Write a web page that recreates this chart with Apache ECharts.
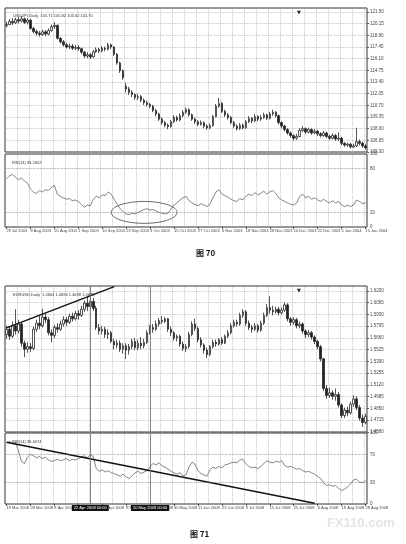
<!DOCTYPE html>
<html><head><meta charset="utf-8">
<script src="https://cdn.jsdelivr.net/npm/echarts@6/dist/echarts.min.js"></script>
<style>html,body{margin:0;padding:0;background:#fff}#c{width:406px;height:544px}</style>
</head><body><div id="c"></div><script>
// ---------- Figure 70 : USDJPY Daily ----------
const jpyTicks = ['29 Jul 2003','8 Aug 2003','20 Aug 2003','1 Sep 2003','10 Sep 2003','23 Sep 2003','3 Oct 2003','15 Oct 2003','27 Oct 2003','6 Nov 2003','18 Nov 2003','28 Nov 2003','10 Dec 2003','22 Dec 2003','5 Jan 2004','15 Jan 2004'];
const jpyOpen = [119.90,120.05,120.40,120.25,120.60,120.45,120.70,120.30,120.55,119.60,
119.25,119.05,118.90,119.20,118.95,119.35,119.80,119.95,118.45,118.05,
117.70,117.45,117.55,117.30,117.40,117.25,116.85,116.40,116.55,116.30,
116.90,117.15,117.00,117.30,117.20,117.70,117.45,116.60,115.60,114.70,
112.90,112.60,112.20,111.95,111.60,111.70,111.30,111.00,110.80,110.60,
110.10,109.70,109.10,108.70,108.40,108.25,108.80,109.30,109.00,109.50,
109.90,110.20,109.60,109.10,108.80,108.50,108.70,108.30,108.10,108.35,
109.40,110.60,110.90,110.00,109.60,109.30,108.70,108.30,108.00,108.40,
108.10,108.80,109.20,108.90,109.40,109.10,109.30,109.60,109.20,109.70,
109.90,109.50,108.70,108.30,107.90,107.50,107.20,106.90,107.10,107.80,
108.00,107.60,107.90,107.50,107.70,107.40,107.20,107.50,107.10,106.90,
107.20,106.80,106.90,106.30,106.10,106.20,105.90,106.00,106.50,106.30,
106.00];
const jpyClose = [120.05,120.40,120.25,120.60,120.45,120.70,120.30,120.55,119.60,119.25,
119.05,118.90,119.20,118.95,119.35,119.80,119.95,118.45,118.05,117.70,
117.45,117.55,117.30,117.40,117.25,116.85,116.40,116.55,116.30,116.90,
117.15,117.00,117.30,117.20,117.70,117.45,116.60,115.60,114.70,113.90,
112.60,112.20,111.95,111.60,111.70,111.30,111.00,110.80,110.60,110.10,
109.70,109.10,108.70,108.40,108.25,108.80,109.30,109.00,109.50,109.90,
110.20,109.60,109.10,108.80,108.50,108.70,108.30,108.10,108.35,109.40,
110.60,110.90,110.00,109.60,109.30,108.70,108.30,108.00,108.40,108.10,
108.80,109.20,108.90,109.40,109.10,109.30,109.60,109.20,109.70,109.90,
109.50,108.70,108.30,107.90,107.50,107.20,106.90,107.10,107.80,108.00,
107.60,107.90,107.50,107.70,107.40,107.20,107.50,107.10,106.90,107.20,
106.80,106.90,106.30,106.10,106.20,105.90,106.00,106.50,106.30,106.00,
105.80];
const jpyLow = [119.70,119.95,120.00,120.10,120.20,120.30,120.10,120.05,119.45,119.00,
118.80,118.65,118.75,118.70,118.80,119.20,119.55,118.30,117.85,117.50,
117.25,117.20,117.10,117.10,117.00,116.60,116.20,116.15,116.05,116.20,
116.75,116.75,116.85,116.95,117.05,117.20,116.40,115.40,114.45,113.65,
112.20,111.90,111.65,111.35,111.30,111.05,110.75,110.55,110.35,109.90,
109.45,108.90,108.45,108.15,107.95,108.10,108.65,108.80,108.85,109.30,
109.70,109.40,108.90,108.55,108.30,108.35,108.05,107.85,107.95,108.25,
109.30,110.40,109.80,109.35,109.05,108.50,108.10,107.80,107.85,107.90,
108.00,108.65,108.65,108.75,108.85,108.90,109.15,109.00,109.05,109.50,
109.30,108.50,108.05,107.70,107.30,106.95,106.65,106.70,107.00,107.60,
107.40,107.45,107.30,107.35,107.15,107.00,107.05,106.90,106.70,106.75,
106.60,106.55,106.10,105.90,105.90,105.70,105.75,105.85,106.05,105.80,
105.60];
const jpyHigh = [120.35,120.65,120.80,120.85,120.90,121.05,120.85,120.80,120.70,119.80,
119.45,119.30,119.45,119.40,119.60,120.05,120.30,120.05,118.60,118.25,
117.95,117.85,117.80,117.70,117.65,117.40,117.00,116.85,116.75,117.10,
117.40,117.35,117.55,117.50,117.95,117.85,117.55,116.75,115.75,114.85,
113.30,112.85,112.45,112.10,112.00,111.90,111.50,111.25,111.00,110.75,
110.30,109.85,109.30,108.90,108.60,109.00,109.55,109.50,109.75,110.15,
110.45,110.35,109.75,109.30,109.00,108.95,108.85,108.50,108.60,109.60,
110.85,111.55,111.10,110.20,109.80,109.45,108.90,108.50,108.65,108.60,
109.00,109.45,109.35,109.70,109.55,109.60,109.85,109.75,109.95,110.20,
110.05,109.65,108.85,108.45,108.05,107.70,107.35,107.40,108.05,108.30,
108.15,108.10,108.05,107.95,107.85,107.60,107.75,107.65,107.30,107.45,
107.40,107.55,107.05,106.45,106.40,106.35,106.25,108.10,106.75,106.50,
106.20];
const jpyRsi = [66,70,72,68,65,67,63,60,52,48,
46,50,48,51,50,54,57,45,42,40,38,39,36,37,35,31,27,30,29,38,42,40,44,43,48,45,
38,31,25,21,18,17,19,18,20,22,24,25,23,24,22,20,19,18,19,25,30,
33,37,40,42,36,33,31,29,32,30,28,31,40,48,51,
45,43,41,38,36,35,39,37,42,45,43,47,44,46,49,45,48,50,46,
40,37,35,33,31,30,33,42,45,
40,42,38,40,37,35,38,35,33,36,33,35,
30,28,30,28,30,37,35,32,33];
const jpyRsiLevels = [80, 20];
const jpyEllipseCenter = [46, 20];   // bar index, RSI value
const jpyEllipseHalf = [11, 15];     // bars, RSI points

// ---------- Figure 71 : EURUSD Daily ----------
const eurTicks = ['19 Mar 2008','28 Mar 2008','8 Apr 2008','18 Apr 2008','29 Apr 2008','8 May 2008','20 May 2008','30 May 2008','11 Jun 2008','23 Jun 2008','3 Jul 2008','15 Jul 2008','25 Jul 2008','6 Aug 2008','18 Aug 2008','28 Aug 2008'];
const eurOpen = [1.5700,1.5760,1.5680,1.5800,1.5740,1.5820,1.5600,1.5530,1.5560,1.5540,
1.5760,1.5830,1.5800,1.5900,1.5870,1.5720,1.5690,1.5780,1.5760,1.5820,
1.5870,1.5840,1.5910,1.5880,1.5940,1.5920,1.5990,1.6060,1.6020,1.6080,
1.6000,1.5780,1.5740,1.5760,1.5700,1.5720,1.5620,1.5580,1.5600,1.5530,
1.5570,1.5520,1.5560,1.5620,1.5550,1.5600,1.5570,1.5610,1.5720,1.5780,
1.5760,1.5820,1.5860,1.5850,1.5880,1.5760,1.5720,1.5660,1.5680,1.5590,
1.5540,1.5560,1.5700,1.5820,1.5770,1.5640,1.5580,1.5520,1.5470,1.5560,
1.5610,1.5590,1.5640,1.5600,1.5680,1.5720,1.5800,1.5840,1.5820,1.5920,
1.5960,1.5830,1.5780,1.5760,1.5800,1.5750,1.5830,1.5920,1.6010,1.5980,
1.5960,1.5990,1.5950,1.5980,1.6040,1.5880,1.5840,1.5870,1.5800,1.5820,
1.5740,1.5700,1.5720,1.5670,1.5620,1.5560,1.5420,1.5080,1.5000,1.5030,
1.4990,1.5010,1.4890,1.4770,1.4830,1.4800,1.4900,1.4960,1.4860,1.4740,
1.4690];
const eurClose = [1.5760,1.5680,1.5800,1.5740,1.5820,1.5600,1.5530,1.5560,1.5540,1.5760,
1.5830,1.5800,1.5900,1.5870,1.5720,1.5690,1.5780,1.5760,1.5820,1.5870,
1.5840,1.5910,1.5880,1.5940,1.5920,1.5990,1.6060,1.6020,1.6080,1.6000,
1.5780,1.5740,1.5760,1.5700,1.5720,1.5620,1.5580,1.5600,1.5530,1.5570,
1.5520,1.5560,1.5620,1.5550,1.5600,1.5570,1.5610,1.5720,1.5780,1.5760,
1.5820,1.5860,1.5850,1.5880,1.5760,1.5720,1.5660,1.5680,1.5590,1.5540,
1.5560,1.5700,1.5820,1.5770,1.5640,1.5580,1.5520,1.5470,1.5560,1.5610,
1.5590,1.5640,1.5600,1.5680,1.5720,1.5800,1.5840,1.5820,1.5920,1.5960,
1.5830,1.5780,1.5760,1.5800,1.5750,1.5830,1.5920,1.6010,1.5980,1.5960,
1.5990,1.5950,1.5980,1.6040,1.5880,1.5840,1.5870,1.5800,1.5820,1.5740,
1.5700,1.5720,1.5670,1.5620,1.5560,1.5420,1.5080,1.5000,1.5030,1.4990,
1.5010,1.4890,1.4770,1.4830,1.4800,1.4900,1.4960,1.4860,1.4740,1.4690,
1.4760];
const eurLow = [1.5650,1.5640,1.5660,1.5700,1.5710,1.5560,1.5440,1.5490,1.5500,1.5520,
1.5730,1.5760,1.5780,1.5830,1.5690,1.5610,1.5660,1.5720,1.5740,1.5790,
1.5800,1.5820,1.5850,1.5860,1.5870,1.5900,1.5960,1.5970,1.5990,1.5970,
1.5750,1.5700,1.5700,1.5660,1.5650,1.5600,1.5530,1.5540,1.5500,1.5480,
1.5420,1.5470,1.5530,1.5520,1.5520,1.5530,1.5540,1.5590,1.5700,1.5720,
1.5740,1.5790,1.5820,1.5830,1.5730,1.5680,1.5630,1.5620,1.5560,1.5510,
1.5500,1.5540,1.5680,1.5740,1.5610,1.5550,1.5480,1.5430,1.5450,1.5540,
1.5560,1.5570,1.5580,1.5590,1.5660,1.5700,1.5780,1.5790,1.5800,1.5890,
1.5800,1.5750,1.5720,1.5740,1.5720,1.5730,1.5810,1.5900,1.5940,1.5920,
1.5940,1.5920,1.5930,1.5960,1.5850,1.5800,1.5810,1.5770,1.5770,1.5710,
1.5660,1.5670,1.5640,1.5590,1.5530,1.5390,1.5050,1.4960,1.4970,1.4950,
1.4940,1.4860,1.4740,1.4740,1.4760,1.4780,1.4870,1.4830,1.4710,1.4640,
1.4670];
const eurHigh = [1.5800,1.5790,1.5850,1.5990,1.5870,1.5840,1.5630,1.5610,1.5600,1.5790,
1.5870,1.5920,1.5995,1.5940,1.5900,1.5760,1.5810,1.5830,1.5860,1.5910,
1.5900,1.5940,1.5950,1.5970,1.5980,1.6030,1.6090,1.6130,1.6110,1.6120,
1.6030,1.5820,1.5800,1.5790,1.5760,1.5740,1.5650,1.5640,1.5630,1.5600,
1.5600,1.5590,1.5650,1.5660,1.5640,1.5670,1.5650,1.5750,1.5810,1.5820,
1.5860,1.5890,1.5910,1.5900,1.5890,1.5790,1.5740,1.5700,1.5700,1.5620,
1.5590,1.5730,1.5850,1.5880,1.5790,1.5670,1.5600,1.5550,1.5580,1.5640,
1.5640,1.5660,1.5670,1.5700,1.5750,1.5830,1.5870,1.5870,1.5950,1.5990,
1.5980,1.5860,1.5810,1.5830,1.5820,1.5860,1.5950,1.6050,1.6140,1.6030,
1.6020,1.6020,1.6010,1.6070,1.6060,1.5900,1.5900,1.5890,1.5850,1.5840,
1.5760,1.5750,1.5740,1.5690,1.5640,1.5580,1.5430,1.5120,1.5090,1.5060,
1.5080,1.5040,1.4910,1.4860,1.4870,1.4930,1.5000,1.4990,1.4890,1.4780,
1.4790];
const eurRsi = [86,88,85,87,75,60,57,66,70,68,65,67,64,66,
62,60,61,63,61,62,64,61,63,62,64,66,68,65,69,67,
50,46,48,45,47,44,43,41,39,42,38,36,40,44,46,43,45,47,
53,57,55,58,54,52,49,46,44,42,44,40,41,52,59,56,47,43,41,39,
48,52,50,53,51,55,56,58,59,58,62,63,57,53,51,52,50,53,
57,61,59,58,60,59,61,54,52,53,51,49,50,47,45,46,44,
42,39,36,30,26,27,25,26,22,19,21,24,28,34,35,31,30,33];
const eurRsiLevels = [70, 30];
const eurPriceTrend = [[0, 1.5775], [36, 1.6250]];   // bar index, price
const eurRsiTrend = [[0, 87], [103, 1]];             // bar index, RSI
const eurVLines = [{bar: 28, label: '22 Apr 2008 00:00'}, {bar: 48, label: '20 May 2008 00:00'}];

// ---------- build ----------
const jpyCats = jpyClose.map((_, i) => String(i));
const eurCats = eurClose.map((_, i) => String(i));
const jpyK = jpyOpen.map((o, i) => [o, jpyClose[i], jpyLow[i], jpyHigh[i]]);
const eurK = eurOpen.map((o, i) => [o, eurClose[i], eurLow[i], eurHigh[i]]);

const FONT = 'Liberation Sans';
const ink = '#2a2a2a';
const gridBase = {left: 5, right: 39, show: true, borderColor: '#333', borderWidth: 1, backgroundColor: '#fff'};
const grids = [
  Object.assign({top: 8, height: 144}, gridBase),
  Object.assign({top: 154, height: 73}, gridBase),
  Object.assign({top: 286, height: 146}, gridBase),
  Object.assign({top: 433, height: 71}, gridBase)
];
function xAx(gi, cats, ticks, showLabels) {
  return {
    type: 'category', gridIndex: gi, data: cats, boundaryGap: true,
    axisLine: {show: false},
    axisTick: {show: showLabels, interval: 7, length: 2, alignWithLabel: true, lineStyle: {color: '#333', width: 0.8}},
    axisLabel: {show: showLabels, interval: 0, fontSize: 4, color: '#444', fontFamily: FONT, align: 'left', margin: 2,
      formatter: (v, i) => (i % 8 === 0 ? ticks[i / 8] : '')},
    splitLine: {show: true, interval: 3, lineStyle: {type: 'dotted', color: '#9a9a9a', width: 0.6}}
  };
}
function yPrice(gi, min, max, interval, dec) {
  return {
    type: 'value', gridIndex: gi, position: 'right', min: min, max: max, interval: interval,
    axisLine: {show: false},
    axisTick: {show: true, length: 2, lineStyle: {color: '#333', width: 0.8}},
    axisLabel: {fontSize: 4.5, color: '#444', fontFamily: FONT, margin: 3, showMaxLabel: false,
      formatter: v => v.toFixed(dec)},
    splitLine: {show: true, lineStyle: {type: 'dotted', color: '#9a9a9a', width: 0.6}}
  };
}
function yRsi(gi, levels) {
  return {
    type: 'value', gridIndex: gi, position: 'right', min: 0, max: 100, interval: 10,
    axisLine: {show: false},
    axisTick: {show: false},
    axisLabel: {fontSize: 4.5, color: '#444', fontFamily: FONT, margin: 3,
      formatter: v => (v === 0 || v === 100 || levels.indexOf(v) >= 0 ? String(v) : '')},
    splitLine: {show: false}
  };
}
const candleStyle = {color: '#fff', color0: '#222', borderColor: ink, borderColor0: ink, borderWidth: 0.8};
function levelLines(levels) {
  return {silent: true, symbol: 'none', label: {show: false},
    lineStyle: {type: 'dotted', color: '#777', width: 0.7},
    data: levels.map(l => ({yAxis: l}))};
}
const smallText = {fontSize: 4, fontWeight: 'normal', color: '#333', fontFamily: FONT};

const option = {
  animation: false,
  backgroundColor: '#fff',
  title: [
    {text: 'USDJPY,Daily  105.71 105.82 105.62 105.70', left: 8, top: 9, textStyle: smallText},
    {text: 'RSI(14) 33.2652', left: 7, top: 156, textStyle: smallText},
    {text: '▼', left: 292, top: 5, textStyle: {fontSize: 5, color: '#222', fontFamily: 'DejaVu Sans'}},
    {text: '图 70', left: 191, top: 244, textStyle: {fontSize: 8, fontWeight: 'bold', color: '#111', fontFamily: 'Noto Sans CJK SC'}},
    {text: 'EURUSD,Daily  1.4664 1.4694 1.4638 1.4648', left: 8, top: 288, textStyle: smallText},
    {text: 'RSI(14) 36.4074', left: 7, top: 435, textStyle: smallText},
    {text: '▼', left: 292, top: 283, textStyle: {fontSize: 5, color: '#222', fontFamily: 'DejaVu Sans'}},
    {text: '图 71', left: 185, top: 525, textStyle: {fontSize: 8, fontWeight: 'bold', color: '#111', fontFamily: 'Noto Sans CJK SC'}},
    {text: 'FX110.com', left: 322, top: 512, textStyle: {fontSize: 13, fontWeight: 'bold', color: '#e4e4e4', fontFamily: 'Liberation Sans'}}
  ],
  grid: grids,
  xAxis: [xAx(0, jpyCats, jpyTicks, false), xAx(1, jpyCats, jpyTicks, true), xAx(2, eurCats, eurTicks, false), xAx(3, eurCats, eurTicks, true)],
  yAxis: [yPrice(0, 105.30, 121.96, 1.35, 2), yRsi(1, jpyRsiLevels), yPrice(2, 1.4580, 1.6257, 0.0135, 4), yRsi(3, eurRsiLevels)],
  series: [
    {type: 'candlestick', xAxisIndex: 0, yAxisIndex: 0, data: jpyK, barWidth: 2, itemStyle: candleStyle},
    {type: 'line', xAxisIndex: 1, yAxisIndex: 1, data: jpyRsi, symbol: 'none', lineStyle: {color: '#666', width: 0.8},
      markLine: levelLines(jpyRsiLevels)},
    {type: 'candlestick', xAxisIndex: 2, yAxisIndex: 2, data: eurK, barWidth: 2, itemStyle: candleStyle,
      markLine: {silent: true, symbol: 'none', label: {show: false}, lineStyle: {type: 'solid', color: '#777', width: 0.9},
        data: eurVLines.map(v => ({xAxis: v.bar}))}},
    {type: 'line', xAxisIndex: 2, yAxisIndex: 2, data: eurPriceTrend, symbol: 'none', clip: false,
      lineStyle: {color: '#111', width: 1.4}},
    {type: 'line', xAxisIndex: 3, yAxisIndex: 3, data: eurRsi, symbol: 'none', lineStyle: {color: '#666', width: 0.8},
      markLine: {silent: true, symbol: 'none',
        data: eurRsiLevels.map(l => ({yAxis: l, lineStyle: {type: 'dotted', color: '#777', width: 0.7}, label: {show: false}}))
          .concat(eurVLines.map(v => ({xAxis: v.bar, lineStyle: {type: 'solid', color: '#777', width: 0.9},
            label: {show: true, position: 'start', distance: 1, formatter: v.label, fontSize: 4, color: '#fff',
              backgroundColor: '#111', padding: [1, 2], fontFamily: FONT}})))}},
    {type: 'line', xAxisIndex: 3, yAxisIndex: 3, data: eurRsiTrend, symbol: 'none',
      lineStyle: {color: '#111', width: 1.4}}
  ]
};
const chart = echarts.init(document.getElementById('c'), null, {renderer: 'canvas'});
chart.setOption(option);

// ellipse annotation around the oversold RSI stretch (defined in bar/RSI units)
const c0 = chart.convertToPixel({gridIndex: 1}, jpyEllipseCenter);
const cx1 = chart.convertToPixel({gridIndex: 1}, [jpyEllipseCenter[0] + jpyEllipseHalf[0], jpyEllipseCenter[1]]);
const cy1 = chart.convertToPixel({gridIndex: 1}, [jpyEllipseCenter[0], jpyEllipseCenter[1] + jpyEllipseHalf[1]]);
const rx = Math.abs(cx1[0] - c0[0]), ry = Math.abs(cy1[1] - c0[1]);
const pts = [];
for (let k = 0; k <= 72; k++) {
  const t = k / 72 * Math.PI * 2;
  pts.push([c0[0] + rx * Math.cos(t), c0[1] + ry * Math.sin(t)]);
}
chart.setOption({graphic: [{type: 'polyline', shape: {points: pts}, style: {stroke: '#444', fill: null, lineWidth: 0.8}, silent: true}]});
</script></body></html>
